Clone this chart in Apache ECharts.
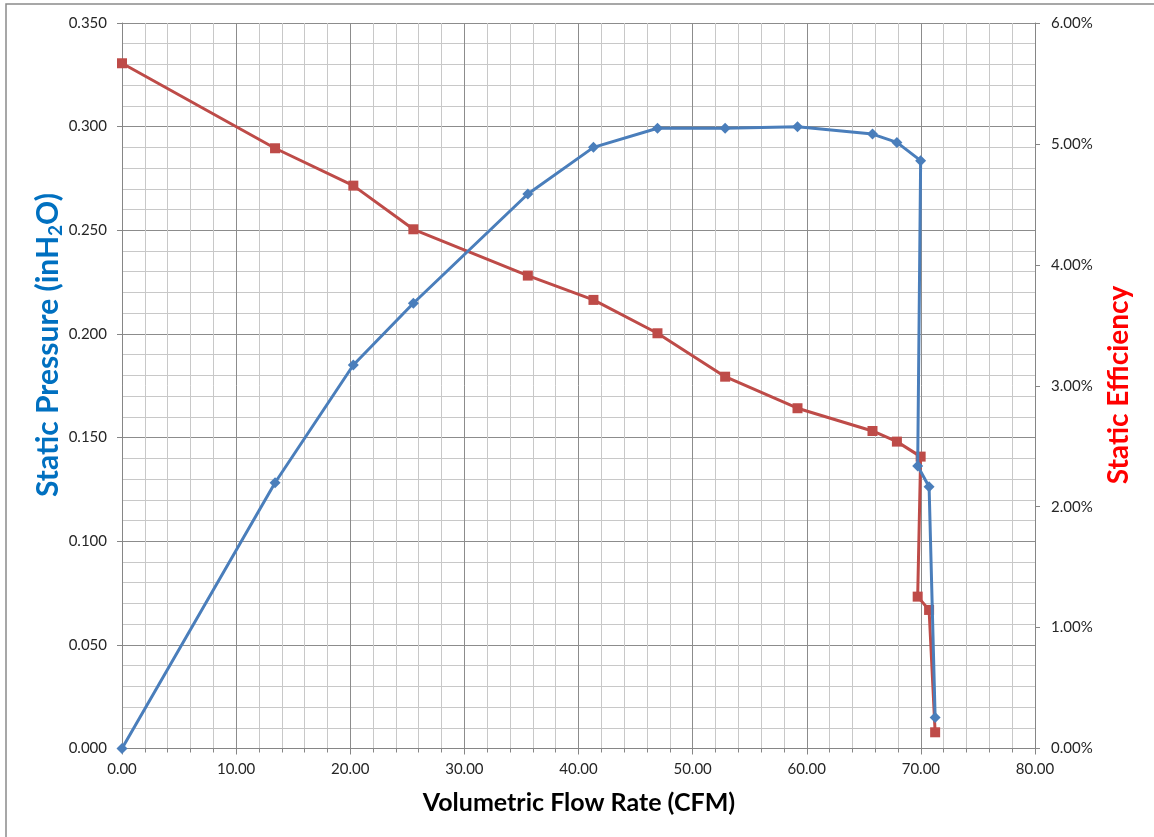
<!DOCTYPE html>
<html>
<head>
<meta charset="utf-8">
<script src="https://cdn.jsdelivr.net/npm/echarts@6/dist/echarts.min.js"></script>
<style>
html,body{margin:0;padding:0;background:#fff;}
#chart{width:1154px;height:837px;}
</style>
</head>
<body>
<div id="chart"></div>
<script>
// Data
var flowCFM = [0, 13.41, 20.27, 25.53, 35.56, 41.31, 46.92, 52.85, 59.19, 65.76, 67.90, 69.98, 69.72, 70.72, 71.25];
var staticPressure = [0, 0.1282, 0.1850, 0.2148, 0.2675, 0.2900, 0.2992, 0.2992, 0.3000, 0.2964, 0.2924, 0.2836, 0.1363, 0.1263, 0.0149];
var staticEfficiency = [0.05667, 0.04964, 0.04655, 0.04294, 0.03911, 0.03710, 0.03434, 0.03075, 0.02814, 0.02626, 0.02538, 0.02414, 0.01256, 0.01146, 0.00134];

var xTitle = 'Volumetric Flow Rate (CFM)';
var yLeftTitle = '{a|Static Pressure (inH}{b|2}{a|O)}';
var yRightTitle = 'Static Efficiency';

var FONT = 'Lato';
var pressureData = flowCFM.map(function (x, i) { return [x, staticPressure[i]]; });
var effData = flowCFM.map(function (x, i) { return [x, staticEfficiency[i]]; });

var chart = echarts.init(document.getElementById('chart'), null, {renderer: 'canvas'});
var labelStyle = {color: '#262626', fontFamily: FONT, fontSize: 15};
var axisLineStyle = {color: '#868686', width: 1};

chart.setOption({
  animation: false,
  backgroundColor: '#ffffff',
  grid: {left: 122, right: 119, top: 23, bottom: 88.5, containLabel: false},
  xAxis: {
    type: 'value', min: 0, max: 80, interval: 10,
    axisLine: {show: true, onZero: false, lineStyle: axisLineStyle},
    axisTick: {show: true, length: 6, lineStyle: axisLineStyle},
    minorTick: {show: true, splitNumber: 5, length: 4, lineStyle: axisLineStyle},
    axisLabel: Object.assign({margin: 13, formatter: function (v) { return v.toFixed(2); }}, labelStyle),
    splitLine: {show: true, lineStyle: {color: '#8c8c8c', width: 1}},
    minorSplitLine: {show: true, lineStyle: {color: '#c8c8c8', width: 1}}
  },
  yAxis: [{
    type: 'value', min: 0, max: 0.35, interval: 0.05, position: 'left',
    axisLine: {show: true, onZero: false, lineStyle: axisLineStyle},
    axisTick: {show: true, length: 5, lineStyle: axisLineStyle},
    minorTick: {show: false, splitNumber: 5},
    axisLabel: Object.assign({margin: 15, formatter: function (v) { return v.toFixed(3); }}, labelStyle),
    splitLine: {show: true, lineStyle: {color: '#8c8c8c', width: 1}},
    minorSplitLine: {show: true, lineStyle: {color: '#c8c8c8', width: 1}}
  }, {
    type: 'value', min: 0, max: 0.06, interval: 0.01, position: 'right',
    axisLine: {show: true, onZero: false, lineStyle: axisLineStyle},
    axisTick: {show: true, length: 5, lineStyle: axisLineStyle},
    axisLabel: Object.assign({margin: 16, formatter: function (v) { return (v * 100).toFixed(2) + '%'; }}, labelStyle),
    splitLine: {show: false}
  }],
  series: [{
    name: 'Static Efficiency', type: 'line', yAxisIndex: 1, data: effData,
    symbol: 'rect', symbolSize: 10, showAllSymbol: true,
    lineStyle: {color: '#BE4B48', width: 3},
    itemStyle: {color: '#BE4B48'},
    z: 2
  }, {
    name: 'Static Pressure', type: 'line', yAxisIndex: 0, data: pressureData,
    symbol: 'diamond', symbolSize: 11, showAllSymbol: true,
    lineStyle: {color: '#4A7EBB', width: 3},
    itemStyle: {color: '#4A7EBB'},
    z: 3
  }],
  graphic: [{
    type: 'polyline', silent: true,
    shape: {points: [[6, 840], [6, 4], [1160, 4]]},
    style: {stroke: '#8a8a8a', lineWidth: 1.5, fill: null}
  }, {
    type: 'text', x: 579, y: 803, silent: true,
    style: {text: xTitle, fill: '#000000', font: 'bold 25px ' + FONT, textAlign: 'center', textVerticalAlign: 'middle'}
  }, {
    type: 'text', x: 48, y: 345, rotation: Math.PI / 2, silent: true,
    style: {
      text: yLeftTitle, textAlign: 'center', textVerticalAlign: 'middle',
      rich: {
        a: {fill: '#0070C0', color: '#0070C0', fontFamily: FONT, fontWeight: 'bold', fontSize: 30, lineHeight: 36},
        b: {fill: '#0070C0', color: '#0070C0', fontFamily: FONT, fontWeight: 'bold', fontSize: 19, padding: [15, 0, 0, 0]}
      }
    }
  }, {
    type: 'text', x: 1119, y: 385, rotation: Math.PI / 2, silent: true,
    style: {text: yRightTitle, fill: '#FF0000', font: 'bold 28px ' + FONT, textAlign: 'center', textVerticalAlign: 'middle'}
  }]
});
</script>
</body>
</html>
